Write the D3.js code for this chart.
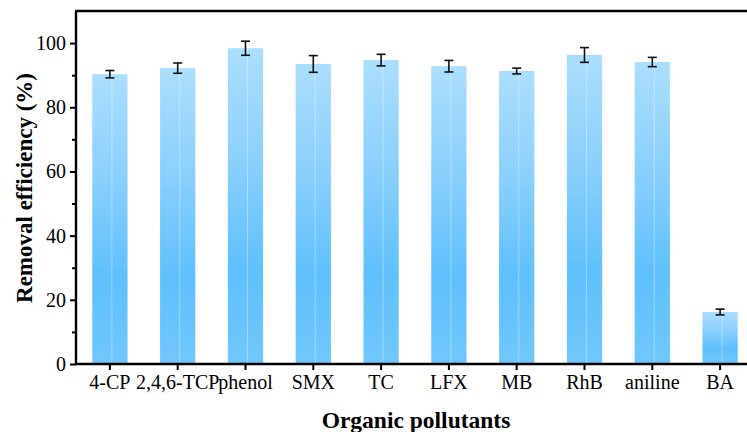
<!DOCTYPE html>
<html>
<head>
<meta charset="utf-8">
<script src="https://cdn.jsdelivr.net/npm/d3@7"></script>
<style>
  html, body { margin: 0; padding: 0; background: #fff; }
  svg { display: block; }
  text { font-family: "Liberation Serif", "Times New Roman", serif; fill: #000; }
</style>
</head>
<body>
<svg id="chart" width="747" height="432"></svg>
<script>
// Removal efficiency of each organic pollutant (mean and standard deviation)
const pollutants = ["4-CP", "2,4,6-TCP", "phenol", "SMX", "TC", "LFX", "MB", "RhB", "aniline", "BA"];
const efficiency = [90.3, 92.2, 98.4, 93.5, 94.7, 92.8, 91.3, 96.3, 94.1, 16.2];
const errors     = [1.15, 1.6, 2.2, 2.6, 1.8, 1.8, 0.9, 2.3, 1.45, 0.9];
const yTicks     = [0, 20, 40, 60, 80, 100];
const yMinor     = [10, 30, 50, 70, 90];

const svg = d3.select("#chart");
const plotLeft = 76, plotRight = 754, plotTop = 11, plotBottom = 364;

const x = d3.scaleBand()
  .domain(pollutants)
  .range([plotLeft, plotRight])
  .paddingInner(0.48)
  .paddingOuter(0.24);

const y = d3.scaleLinear().domain([0, 110]).range([plotBottom, plotTop]);

// vertical gradient used to fill the bars
const defs = svg.append("defs");
const grad = defs.append("linearGradient")
  .attr("id", "barFill")
  .attr("x1", 0).attr("y1", 0).attr("x2", 0).attr("y2", 1);
grad.append("stop").attr("offset", "0%").attr("stop-color", "#abdefd");
grad.append("stop").attr("offset", "35%").attr("stop-color", "#8bd0fd");
grad.append("stop").attr("offset", "70%").attr("stop-color", "#5fc0fd");
grad.append("stop").attr("offset", "100%").attr("stop-color", "#70c7fd");

const rows = pollutants.map((p, i) => ({ name: p, value: efficiency[i], err: errors[i] }));

// bars
svg.append("g").selectAll("rect")
  .data(rows)
  .join("rect")
  .attr("x", d => x(d.name))
  .attr("y", d => y(d.value))
  .attr("width", x.bandwidth())
  .attr("height", d => y(0) - y(d.value))
  .attr("fill", "url(#barFill)");

// faint vertical sheen down each bar
svg.append("g").selectAll("line")
  .data(rows)
  .join("line")
  .attr("x1", d => x(d.name) + x.bandwidth() / 2 + 2)
  .attr("x2", d => x(d.name) + x.bandwidth() / 2 + 2)
  .attr("y1", d => y(d.value))
  .attr("y2", y(0))
  .attr("stroke", "rgba(255,255,255,0.35)")
  .attr("stroke-width", 1);

// error bars
const eb = svg.append("g").attr("stroke", "#111").attr("stroke-width", 1.6).attr("fill", "none");
rows.forEach(d => {
  const cx = x(d.name) + x.bandwidth() / 2;
  const hi = y(d.value + d.err), lo = y(d.value - d.err);
  eb.append("line").attr("x1", cx).attr("x2", cx).attr("y1", hi).attr("y2", lo);
  eb.append("line").attr("x1", cx - 4.5).attr("x2", cx + 4.5).attr("y1", hi).attr("y2", hi);
  eb.append("line").attr("x1", cx - 4.5).attr("x2", cx + 4.5).attr("y1", lo).attr("y2", lo);
});

// y axis with major and minor ticks
const yAxis = svg.append("g")
  .attr("transform", `translate(${plotLeft},0)`)
  .call(d3.axisLeft(y).tickValues(yTicks).tickSize(6).tickPadding(4).tickFormat(d3.format("d")));
svg.append("g")
  .attr("transform", `translate(${plotLeft},0)`)
  .call(d3.axisLeft(y).tickValues(yMinor).tickSize(4).tickFormat(""))
  .call(g => g.select(".domain").remove());

// x axis
const xAxis = svg.append("g")
  .attr("transform", `translate(0,${plotBottom})`)
  .call(d3.axisBottom(x).tickSize(6).tickPadding(5).tickSizeOuter(0));

svg.selectAll(".tick line").attr("stroke", "#000").attr("stroke-width", 2);
svg.selectAll(".domain").attr("stroke", "#000").attr("stroke-width", 2.4);
svg.selectAll(".tick text").style("font-size", "20px").attr("fill", "#000");
yAxis.select(".domain").attr("d", `M0,${plotBottom + 1}V${plotTop}`);
xAxis.select(".domain").attr("d", `M${plotLeft - 1},0H${plotRight}`);

// top frame line
svg.append("line")
  .attr("x1", plotLeft - 1).attr("x2", plotRight)
  .attr("y1", plotTop).attr("y2", plotTop)
  .attr("stroke", "#000").attr("stroke-width", 2.4);

// axis titles
svg.append("text")
  .attr("transform", `translate(32,188) rotate(-90)`)
  .attr("text-anchor", "middle")
  .style("font-size", "23px").style("font-weight", "bold")
  .text("Removal efficiency (%)");

svg.append("text")
  .attr("x", 416).attr("y", 428)
  .attr("text-anchor", "middle")
  .style("font-size", "23.5px").style("font-weight", "bold")
  .text("Organic pollutants");
</script>
</body>
</html>
